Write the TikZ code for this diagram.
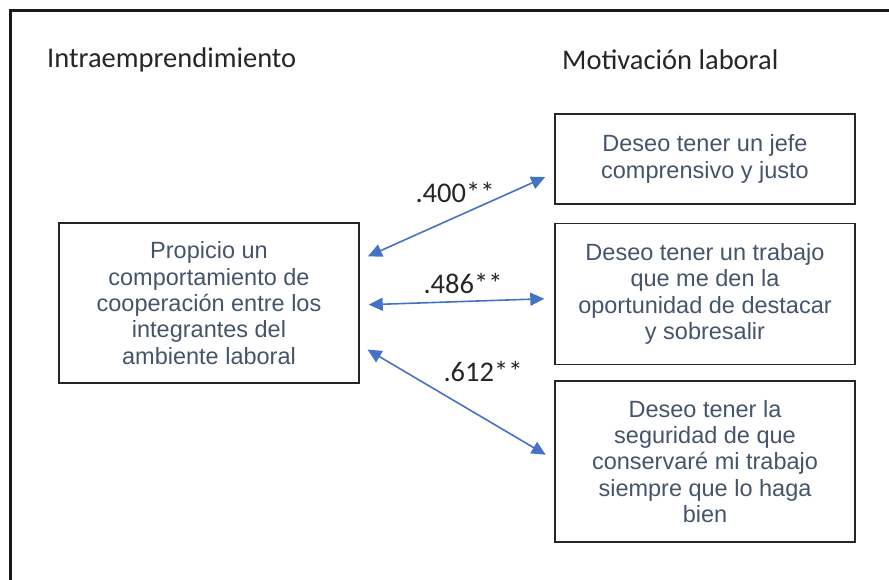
\documentclass[tikz,border=0pt]{standalone}
\usepackage{fontspec}
\setmainfont{Liberation Sans}
\newfontfamily\calibri{Carlito}
\usetikzlibrary{positioning,arrows.meta}
\definecolor{boxtext}{HTML}{44546A}
\definecolor{linkblue}{HTML}{4472C4}

\begin{document}
\begin{tikzpicture}[
  x=1pt, y=-1pt,
  box/.style={draw=black!85, line width=1.4pt, align=center, inner sep=0pt,
              minimum width=300pt, text=boxtext, font=\fontsize{23.5}{26.3}\selectfont},
  head/.style={font=\calibri\fontsize{28.5}{32}\selectfont, text=black!85, anchor=west, inner sep=0pt},
  coef/.style={font=\calibri\fontsize{28.5}{32}\selectfont, text=black!85, inner sep=0pt},
  link/.style={{Triangle[length=14pt,width=13pt]}-{Triangle[length=14pt,width=13pt]},
               line width=1.6pt, draw=linkblue, shorten <=9pt, shorten >=10pt},
]
\useasboundingbox (0,0) rectangle (889,580);
% ---- outer frame ----
\draw[line width=3pt, black!90] (10,600) -- (10,11) -- (900,11);

% ---- headings ----
\node[head] (hintra) at (47,60) {Intraemprendimiento};
\node[head] (hmotiv) at (562,60) {Motivación laboral};

% ---- left: intraemprendimiento ----
\node[box, minimum height=160pt] (prop) at (209,303)
      {Propicio un\\comportamiento de\\cooperación entre los\\integrantes del\\ambiente laboral};

% ---- right: motivacion laboral ----
\node[box, minimum height=90pt] (jefe) at (705,159)
      {Deseo tener un jefe\\comprensivo y justo};
\node[box, minimum height=141pt, below=18pt of jefe] (destacar)
      {Deseo tener un trabajo\\que me den la\\oportunidad de destacar\\y sobresalir};
\node[box, minimum height=161pt, below=15pt of destacar] (seguridad)
      {Deseo tener la\\seguridad de que\\conservaré mi trabajo\\siempre que lo haga\\bien};

% ---- correlations ----
\draw[link] ([yshift=43pt]prop.east) -- ([yshift=-14pt]jefe.west);
\draw[link] ([yshift=-2pt]prop.east) -- ([yshift=-4.5pt]destacar.west);
\draw[link] ([yshift=-42pt]prop.east) -- ([yshift=1.5pt]seguridad.west);
\node[coef] (r1) at (455,192) {.400**};
\node[coef] (r2) at (463,283) {.486**};
\node[coef] (r3) at (483,371) {.612**};
\end{tikzpicture}
\end{document}
